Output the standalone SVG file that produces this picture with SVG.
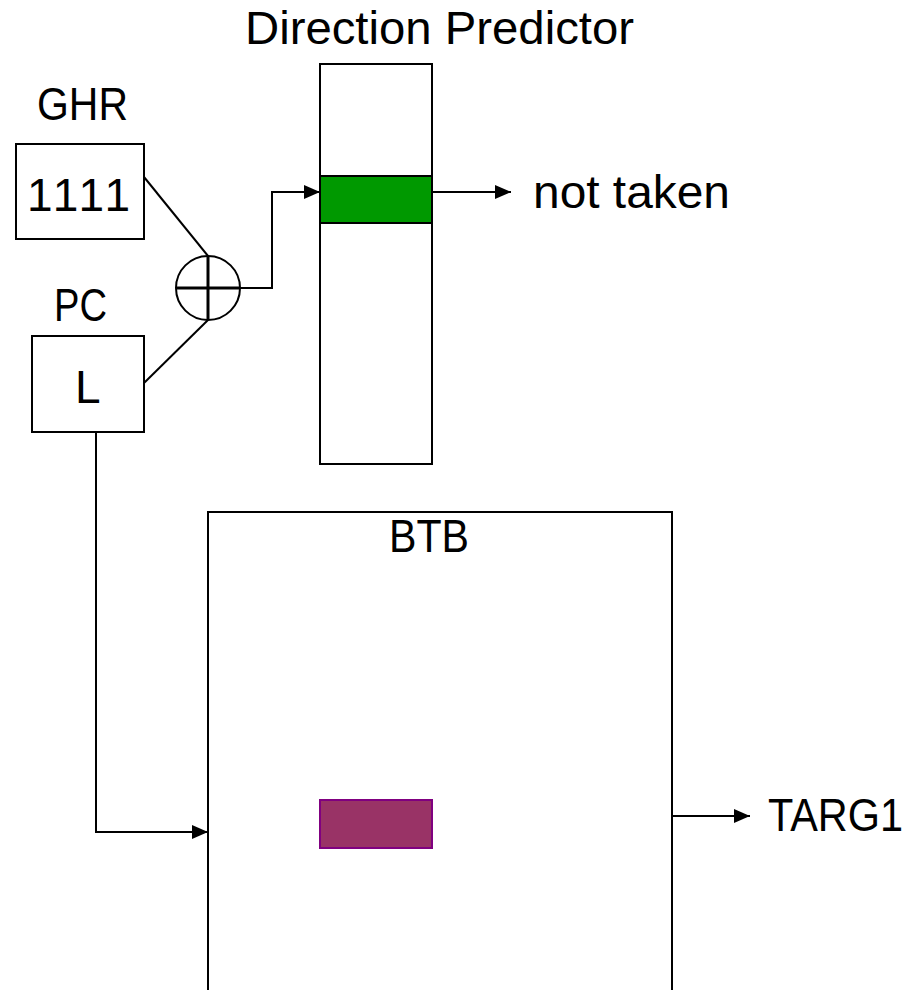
<svg xmlns="http://www.w3.org/2000/svg" width="923" height="990" viewBox="0 0 923 990">
<style>
.box{fill:#fff;stroke:#000;stroke-width:2}
.ln{fill:none;stroke:#000;stroke-width:2}
.lbl{font-family:"Liberation Sans",Arial,sans-serif;font-size:46px;fill:#000}
</style>
<defs>
<marker id="arr" viewBox="0 0 16 14" refX="16" refY="7" markerWidth="16" markerHeight="14" markerUnits="userSpaceOnUse" orient="auto">
<path d="M0,0 L16,7 L0,14 Z" fill="#000"/>
</marker>
</defs>
<rect width="923" height="990" fill="#fff"/>
<g id="title"><text class="lbl" x="245" y="44" textLength="389" lengthAdjust="spacingAndGlyphs">Direction Predictor</text></g>
<g id="ghr">
<text class="lbl" x="37" y="120" textLength="91" lengthAdjust="spacingAndGlyphs">GHR</text>
<rect class="box" x="16" y="144" width="128" height="95"/>
<text class="lbl" x="27" y="211" textLength="103" lengthAdjust="spacing">1111</text>
</g>
<g id="pc">
<text class="lbl" x="54" y="321" textLength="53" lengthAdjust="spacingAndGlyphs">PC</text>
<rect class="box" x="32" y="336" width="112" height="96"/>
<text class="lbl" x="75" y="403">L</text>
</g>
<g id="xor">
<circle cx="208" cy="288" r="32" fill="#fff" stroke="#000" stroke-width="2"/>
<line x1="176" y1="288" x2="240" y2="288" stroke="#000" stroke-width="3"/>
<line x1="208" y1="256" x2="208" y2="320" stroke="#000" stroke-width="3"/>
</g>
<g id="predictor">
<rect class="box" x="320" y="64" width="112" height="400"/>
<rect x="320" y="176" width="112" height="47" fill="#009900" stroke="#000" stroke-width="2"/>
</g>
<g id="btb">
<rect class="box" x="208" y="512" width="464" height="520"/>
<text class="lbl" x="389" y="552" textLength="80" lengthAdjust="spacingAndGlyphs">BTB</text>
<rect x="320" y="800" width="112" height="48" fill="#993366" stroke="#800080" stroke-width="2"/>
</g>
<g id="connectors">
<line class="ln" x1="144" y1="177" x2="208" y2="256"/>
<line class="ln" x1="144" y1="383" x2="208" y2="320"/>
<polyline class="ln" points="240,288 272,288 272,192 320,192" marker-end="url(#arr)"/>
<line class="ln" x1="432" y1="192" x2="511" y2="192" marker-end="url(#arr)"/>
<polyline class="ln" points="96,432 96,832 208,832" marker-end="url(#arr)"/>
<line class="ln" x1="672" y1="816" x2="750" y2="816" marker-end="url(#arr)"/>
</g>
<g id="outputs">
<text class="lbl" x="533" y="208" textLength="197" lengthAdjust="spacingAndGlyphs">not taken</text>
<text class="lbl" x="768" y="831" textLength="135" lengthAdjust="spacingAndGlyphs">TARG1</text>
</g>
</svg>
